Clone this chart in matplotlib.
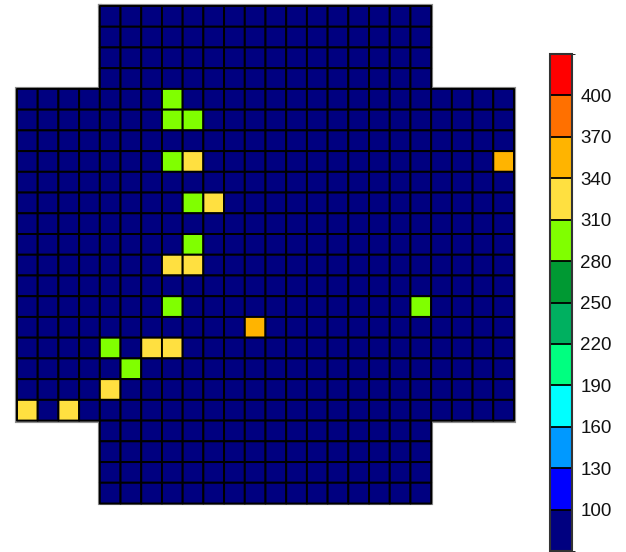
import numpy as np
import matplotlib.pyplot as plt
from matplotlib.colors import ListedColormap, BoundaryNorm

plt.rcParams['font.family'] = ['Liberation Sans', 'DejaVu Sans']

# core layout, 24 x 24 positions: 'x' = assembly, '.' = outside the core
core_rows = (['....xxxxxxxxxxxxxxxx....'] * 4
             + ['xxxxxxxxxxxxxxxxxxxxxxxx'] * 16
             + ['....xxxxxxxxxxxxxxxx....'] * 4)

base_value = 85

# (row, col, value) for the assemblies above the base level
hot_cells = [
    (4, 7, 295), (5, 7, 295), (5, 8, 295),
    (7, 7, 295), (7, 8, 325), (7, 23, 355),
    (9, 8, 295), (9, 9, 325),
    (11, 8, 295), (12, 7, 325), (12, 8, 325),
    (14, 7, 295), (14, 19, 295), (15, 11, 355),
    (16, 4, 295), (16, 6, 325), (16, 7, 325),
    (17, 5, 295), (18, 4, 325),
    (19, 0, 325), (19, 2, 325),
]

levels = [70, 100, 130, 160, 190, 220, 250, 280, 310, 340, 370, 400, 430]
tick_labels = [100, 130, 160, 190, 220, 250, 280, 310, 340, 370, 400]
level_colors = ['#000080', '#0000ff', '#0099ff', '#00ffff', '#00ff80', '#00b060',
                '#009933', '#80ff00', '#ffe040', '#ffb400', '#ff7000', '#ff0000']

n = len(core_rows)
grid = np.full((n, n), np.nan)
for r, row in enumerate(core_rows):
    for c, ch in enumerate(row):
        if ch == 'x':
            grid[r, c] = base_value
for r, c, v in hot_cells:
    grid[r, c] = v
data = np.ma.masked_invalid(grid)

cmap = ListedColormap(level_colors)
norm = BoundaryNorm(levels, cmap.N)

fig = plt.figure(figsize=(6.26, 5.52), dpi=100)
ax = fig.add_axes([17 / 626, 1 - 503.5 / 552, 497 / 626, 497.5 / 552])

# grey outline around the core shape
outline_x = [4, 20, 20, 24, 24, 20, 20, 4, 4, 0, 0, 4, 4]
outline_y = [0, 0, 4, 4, 20, 20, 24, 24, 20, 20, 4, 4, 0]
ax.plot(outline_x, outline_y, color='#8c8c8c', lw=3.0, zorder=1,
        solid_joinstyle='miter', clip_on=False)

# pcolor skips the masked positions outside the core
mesh = ax.pcolor(np.arange(n + 1), np.arange(n + 1), data, cmap=cmap,
                 norm=norm, edgecolors='black', linewidth=1.4, zorder=2,
                 clip_on=False)
ax.set_xlim(0, n)
ax.set_ylim(n, 0)
ax.axis('off')

cax = fig.add_axes([550 / 626, 1 / 552, 22 / 626, 497 / 552])
cb = fig.colorbar(mesh, cax=cax, ticks=tick_labels, drawedges=True)
cb.dividers.set_color('black')
cb.dividers.set_linewidth(1.3)
cb.outline.set_edgecolor('#333333')
cb.outline.set_linewidth(1.5)
cb.ax.tick_params(length=0, pad=6, labelsize=13.5, colors='#111111')

fig.savefig('out.png', dpi=100)
